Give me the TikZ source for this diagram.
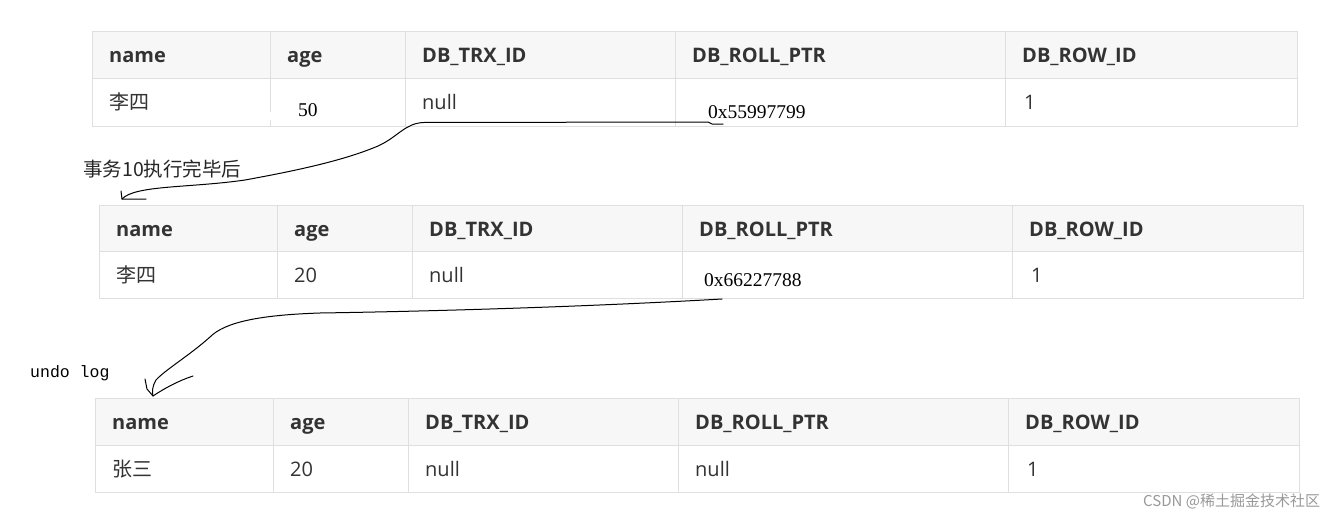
\documentclass[tikz,border=0pt]{standalone}
\usepackage{fontspec}
\usepackage{tikz}
\newfontfamily\tabfont{Open Sans}
\newfontfamily\cjk{Noto Sans CJK SC}
\newfontfamily\handfont{Liberation Serif}
\newfontfamily\handmono{Liberation Mono}
\definecolor{hdrfill}{HTML}{F7F7F7}
\definecolor{tabline}{HTML}{DFDFDF}
\definecolor{tabtext}{HTML}{333333}
\tikzset{
  hdr/.style={anchor=base west, inner sep=0pt, text=tabtext, font=\tabfont\bfseries\fontsize{20}{24}\selectfont},
  cell/.style={anchor=base west, inner sep=0pt, text=tabtext, font=\tabfont\fontsize{20}{24}\selectfont},
  zh/.style={anchor=base west, inner sep=0pt, text=tabtext, font=\cjk\fontsize{20}{24}\selectfont},
  hand/.style={anchor=base west, inner sep=0pt, font=\handfont\fontsize{19.5}{24}\selectfont},
  gridline/.style={draw=tabline, line width=1pt},
  pen/.style={line width=1pt, line cap=round, line join=round}
}

\begin{document}
\begin{tikzpicture}[x=1pt, y=-1pt]
        \fill[white] (0,0) rectangle (1331,519);
        \useasboundingbox (0,0) rectangle (1331,519);

        % first row version
        \fill[hdrfill] (92,32) rectangle (1297,79);
        \draw[gridline] (92,32) rectangle (1297,126)
        (92,79) to (1297,79)
        (270,32) to (270,126) (405,32) to (405,126) (675,32) to (675,126) (1005,32) to (1005,126);
        \draw[white, line width=2pt] (270,112) to (270,120);
        \node[hdr] (nameA) at (109,63) {name};
        \node[hdr] (ageA) at (287,63) {age};
        \node[hdr] (trxA) at (422,63) {DB\_TRX\_ID};
        \node[hdr] (rollA) at (692,63) {DB\_ROLL\_PTR};
        \node[hdr] (rowA) at (1022,63) {DB\_ROW\_ID};
        \node[zh] (valnameA) at (109,110) {李四};
        \node[hand] (valageA) at (298,116) {50};
        \node[cell] (valtrxA) at (422,110) {null};
        \node[hand] (valrollA) at (708,118) {0x55997799};
        \node[cell] (valrowA) at (1024,110) {1};

        % second row version
        \fill[hdrfill] (99,205) rectangle (1303,251);
        \draw[gridline] (99,205) rectangle (1303,298)
        (99,251) to (1303,251)
        (277,205) to (277,298) (412,205) to (412,298) (682,205) to (682,298) (1012,205) to (1012,298);
        \node[hdr] (nameB) at (116,236) {name};
        \node[hdr] (ageB) at (294,236) {age};
        \node[hdr] (trxB) at (429,236) {DB\_TRX\_ID};
        \node[hdr] (rollB) at (699,236) {DB\_ROLL\_PTR};
        \node[hdr] (rowB) at (1029,236) {DB\_ROW\_ID};
        \node[zh] (valnameB) at (116,282) {李四};
        \node[cell] (valageB) at (294,282) {20};
        \node[cell] (valtrxB) at (429,282) {null};
        \node[hand] (valrollB) at (704,286) {0x66227788};
        \node[cell] (valrowB) at (1031,282) {1};

        % undo log row
        \fill[hdrfill] (95,398) rectangle (1299,445);
        \draw[gridline] (95,398) rectangle (1299,492)
        (95,445) to (1299,445)
        (273,398) to (273,492) (408,398) to (408,492) (678,398) to (678,492) (1008,398) to (1008,492);
        \node[hdr] (nameC) at (112,429) {name};
        \node[hdr] (ageC) at (290,429) {age};
        \node[hdr] (trxC) at (425,429) {DB\_TRX\_ID};
        \node[hdr] (rollC) at (695,429) {DB\_ROLL\_PTR};
        \node[hdr] (rowC) at (1025,429) {DB\_ROW\_ID};
        \node[zh] (valnameC) at (112,476) {张三};
        \node[cell] (valageC) at (290,476) {20};
        \node[cell] (valtrxC) at (425,476) {null};
        \node[cell] (valrollC) at (695,476) {null};
        \node[cell] (valrowC) at (1027,476) {1};

        % labels
        \node[anchor=base west, inner sep=0pt, text=black!85, font=\cjk\fontsize{19.5}{24}\selectfont] (afterlbl) at (83,176) {事务10执行完毕后};
        \node[anchor=base west, inner sep=0pt, font=\handmono\fontsize{16.5}{20}\selectfont] (undolbl) at (30,377) {undo log};
        \node[anchor=base west, inner sep=0pt, text=gray!80, font=\cjk\fontsize{15}{18}\selectfont] (mark) at (1143,506) {CSDN @稀土掘金技术社区};

        % hand drawn pointers
        \coordinate (fromA) at (723,124);
        \coordinate (toA) at (122,199);
        \coordinate (fromB) at (722,299);
        \coordinate (toB) at (153,396);
        \draw[pen] (fromA) to (712,124) to (708,122) to (424,122.5)
        .. controls (405,123) and (398,137) .. (378,146)
        .. controls (345,160) and (300,170) .. (245,180)
        .. controls (190,188) and (135,185) .. (toA);
        \draw[pen] (121,191) to (toA) to (146,199);
        \draw[pen] (fromB) .. controls (600,306) and (450,311) .. (320,313)
        .. controls (260,315) and (225,322) .. (210,337)
        .. controls (190,355) and (165,370) .. (156,380)
        .. controls (152,387) and (152,392) .. (toB);
        \draw[pen] (145,379) to (147,389) to (toB)
        .. controls (165,388) and (178,381) .. (193,376);
    \end{tikzpicture}
\end{document}
